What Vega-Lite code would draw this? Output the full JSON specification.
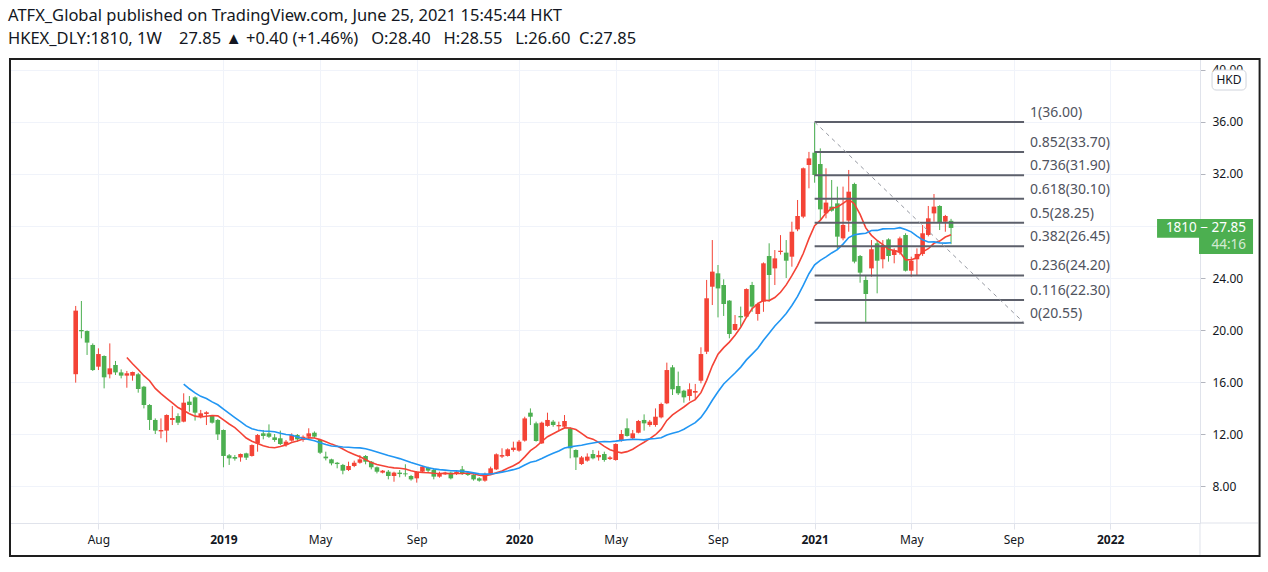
{
  "$schema": "https://vega.github.io/schema/vega-lite/v6.json",
  "width": 1190,
  "height": 465,
  "autosize": {"type": "none"},
  "padding": {"left": 10, "top": 58, "right": 68, "bottom": 49},
  "background": "#ffffff",
  "title": {
    "text": "ATFX_Global published on TradingView.com, June 25, 2021 15:45:44 HKT",
    "subtitle": "HKEX_DLY:1810, 1W\u00a0\u00a0\u00a0 27.85 ▲ +0.40 (+1.46%)\u00a0\u00a0 O:28.40\u00a0\u00a0 H:28.55\u00a0\u00a0 L:26.60\u00a0 C:27.85",
    "anchor": "start",
    "frame": "group",
    "dx": -2,
    "offset": 10,
    "font": "Noto Sans",
    "fontSize": 16.5,
    "fontWeight": "normal",
    "color": "#131722",
    "subtitleFont": "Noto Sans",
    "subtitleFontSize": 16.5,
    "subtitleColor": "#131722",
    "subtitlePadding": 7
  },
  "config": {"view": {"stroke": null}, "text": {"font": "Noto Sans"}},
  "datasets": {
    "candles": [
      {"d":"2018-07-09","o":16.6,"h":21.85,"l":15.95,"c":21.49},
      {"d":"2018-07-16","o":20.0,"h":22.23,"l":19.36,"c":19.9},
      {"d":"2018-07-23","o":19.92,"h":19.97,"l":18.08,"c":19.03},
      {"d":"2018-07-30","o":18.85,"h":18.97,"l":16.85,"c":16.92},
      {"d":"2018-08-06","o":17.18,"h":18.59,"l":16.92,"c":18.15},
      {"d":"2018-08-13","o":18.0,"h":18.05,"l":15.51,"c":16.36},
      {"d":"2018-08-20","o":16.59,"h":18.97,"l":16.28,"c":17.05},
      {"d":"2018-08-27","o":17.31,"h":17.62,"l":16.54,"c":16.74},
      {"d":"2018-09-03","o":16.74,"h":16.97,"l":16.28,"c":16.49},
      {"d":"2018-09-10","o":16.49,"h":16.85,"l":15.56,"c":16.67},
      {"d":"2018-09-17","o":16.49,"h":16.8,"l":16.1,"c":16.77},
      {"d":"2018-09-24","o":16.6,"h":16.7,"l":15.18,"c":15.46},
      {"d":"2018-10-01","o":15.64,"h":15.7,"l":13.97,"c":14.23},
      {"d":"2018-10-08","o":14.23,"h":14.3,"l":12.31,"c":13.08},
      {"d":"2018-10-15","o":13.08,"h":13.2,"l":12.0,"c":12.26},
      {"d":"2018-10-22","o":12.2,"h":13.2,"l":11.67,"c":12.31},
      {"d":"2018-10-29","o":12.26,"h":13.51,"l":11.36,"c":13.46},
      {"d":"2018-11-05","o":13.08,"h":14.15,"l":12.69,"c":13.23},
      {"d":"2018-11-12","o":13.38,"h":13.59,"l":12.69,"c":12.87},
      {"d":"2018-11-19","o":12.95,"h":15.13,"l":12.9,"c":14.41},
      {"d":"2018-11-26","o":14.49,"h":14.92,"l":13.72,"c":14.23},
      {"d":"2018-12-03","o":14.82,"h":14.9,"l":13.03,"c":13.64},
      {"d":"2018-12-10","o":13.38,"h":13.85,"l":13.2,"c":13.59},
      {"d":"2018-12-17","o":13.54,"h":13.75,"l":12.69,"c":13.67},
      {"d":"2018-12-24","o":13.41,"h":13.46,"l":12.8,"c":12.87},
      {"d":"2018-12-31","o":13.08,"h":13.15,"l":11.54,"c":11.97},
      {"d":"2019-01-07","o":12.31,"h":12.35,"l":9.44,"c":10.31},
      {"d":"2019-01-14","o":10.36,"h":10.46,"l":9.62,"c":10.13},
      {"d":"2019-01-21","o":10.23,"h":10.38,"l":9.95,"c":10.1},
      {"d":"2019-01-28","o":10.2,"h":10.5,"l":9.87,"c":10.46},
      {"d":"2019-02-04","o":10.51,"h":10.56,"l":10.0,"c":10.18},
      {"d":"2019-02-11","o":10.31,"h":11.2,"l":10.26,"c":11.15},
      {"d":"2019-02-18","o":11.28,"h":12.0,"l":10.64,"c":11.92},
      {"d":"2019-02-25","o":12.05,"h":12.31,"l":11.59,"c":11.85},
      {"d":"2019-03-04","o":12.05,"h":12.74,"l":11.7,"c":11.79},
      {"d":"2019-03-11","o":11.74,"h":12.0,"l":11.4,"c":11.54},
      {"d":"2019-03-18","o":11.67,"h":12.26,"l":11.15,"c":11.23},
      {"d":"2019-03-25","o":11.15,"h":11.54,"l":11.02,"c":11.41},
      {"d":"2019-04-01","o":11.49,"h":12.05,"l":11.41,"c":11.92},
      {"d":"2019-04-08","o":11.92,"h":12.0,"l":11.41,"c":11.59},
      {"d":"2019-04-15","o":11.54,"h":11.9,"l":11.4,"c":11.79},
      {"d":"2019-04-22","o":11.79,"h":12.44,"l":11.54,"c":12.05},
      {"d":"2019-04-29","o":12.1,"h":12.2,"l":11.7,"c":11.8},
      {"d":"2019-05-06","o":11.54,"h":11.6,"l":10.46,"c":10.56},
      {"d":"2019-05-13","o":10.26,"h":10.64,"l":9.97,"c":10.13},
      {"d":"2019-05-20","o":10.05,"h":10.1,"l":9.59,"c":9.74},
      {"d":"2019-05-27","o":9.79,"h":9.85,"l":9.36,"c":9.69},
      {"d":"2019-06-03","o":9.62,"h":9.7,"l":8.9,"c":9.18},
      {"d":"2019-06-10","o":9.23,"h":9.87,"l":9.15,"c":9.54},
      {"d":"2019-06-17","o":9.54,"h":9.95,"l":9.45,"c":9.79},
      {"d":"2019-06-24","o":9.79,"h":10.38,"l":9.72,"c":10.05},
      {"d":"2019-07-01","o":10.31,"h":10.38,"l":9.67,"c":9.87},
      {"d":"2019-07-08","o":9.87,"h":9.92,"l":9.28,"c":9.44},
      {"d":"2019-07-15","o":9.44,"h":9.5,"l":8.97,"c":9.1},
      {"d":"2019-07-22","o":9.03,"h":9.23,"l":8.97,"c":9.18},
      {"d":"2019-07-29","o":9.1,"h":9.23,"l":8.51,"c":8.77},
      {"d":"2019-08-05","o":8.77,"h":9.1,"l":8.33,"c":9.03},
      {"d":"2019-08-12","o":9.03,"h":9.23,"l":8.67,"c":8.92},
      {"d":"2019-08-19","o":8.97,"h":9.67,"l":8.72,"c":8.9},
      {"d":"2019-08-26","o":8.77,"h":8.85,"l":8.41,"c":8.51},
      {"d":"2019-09-02","o":8.59,"h":9.15,"l":8.26,"c":9.1},
      {"d":"2019-09-09","o":9.1,"h":9.54,"l":9.03,"c":9.49},
      {"d":"2019-09-16","o":9.41,"h":9.49,"l":9.03,"c":9.18},
      {"d":"2019-09-23","o":9.23,"h":9.36,"l":8.51,"c":8.72},
      {"d":"2019-09-30","o":8.72,"h":9.1,"l":8.64,"c":8.97},
      {"d":"2019-10-07","o":8.9,"h":9.1,"l":8.85,"c":9.03},
      {"d":"2019-10-14","o":9.03,"h":9.1,"l":8.51,"c":8.59},
      {"d":"2019-10-21","o":8.92,"h":9.15,"l":8.85,"c":9.1},
      {"d":"2019-10-28","o":9.28,"h":9.54,"l":8.85,"c":8.92},
      {"d":"2019-11-04","o":8.97,"h":9.1,"l":8.77,"c":8.85},
      {"d":"2019-11-11","o":8.85,"h":8.9,"l":8.41,"c":8.51},
      {"d":"2019-11-18","o":8.59,"h":8.67,"l":8.33,"c":8.41},
      {"d":"2019-11-25","o":8.41,"h":9.03,"l":8.33,"c":8.92},
      {"d":"2019-12-02","o":8.92,"h":9.49,"l":8.85,"c":9.36},
      {"d":"2019-12-09","o":9.28,"h":10.51,"l":9.23,"c":10.44},
      {"d":"2019-12-16","o":10.26,"h":10.9,"l":10.15,"c":10.38},
      {"d":"2019-12-23","o":10.31,"h":10.9,"l":10.26,"c":10.82},
      {"d":"2019-12-30","o":10.77,"h":11.41,"l":10.64,"c":10.95},
      {"d":"2020-01-06","o":10.72,"h":11.54,"l":10.64,"c":11.41},
      {"d":"2020-01-13","o":11.49,"h":13.33,"l":11.41,"c":13.2},
      {"d":"2020-01-20","o":13.64,"h":13.97,"l":12.69,"c":13.33},
      {"d":"2020-01-27","o":12.82,"h":12.95,"l":11.41,"c":11.46},
      {"d":"2020-02-03","o":11.28,"h":12.95,"l":11.23,"c":12.87},
      {"d":"2020-02-10","o":12.62,"h":13.64,"l":12.56,"c":13.08},
      {"d":"2020-02-17","o":12.95,"h":13.08,"l":12.56,"c":12.69},
      {"d":"2020-02-24","o":12.59,"h":12.95,"l":12.31,"c":12.69},
      {"d":"2020-03-02","o":12.56,"h":13.46,"l":12.51,"c":13.0},
      {"d":"2020-03-09","o":12.44,"h":12.51,"l":10.13,"c":10.9},
      {"d":"2020-03-16","o":10.77,"h":10.82,"l":9.23,"c":10.2},
      {"d":"2020-03-23","o":9.69,"h":10.31,"l":9.62,"c":10.2},
      {"d":"2020-03-30","o":9.95,"h":10.51,"l":9.87,"c":10.26},
      {"d":"2020-04-06","o":10.46,"h":10.77,"l":10.05,"c":10.13},
      {"d":"2020-04-13","o":10.21,"h":10.72,"l":9.95,"c":10.38},
      {"d":"2020-04-20","o":10.46,"h":10.64,"l":9.87,"c":10.0},
      {"d":"2020-04-27","o":10.08,"h":10.3,"l":10.0,"c":10.2},
      {"d":"2020-05-04","o":10.0,"h":11.28,"l":9.95,"c":11.23},
      {"d":"2020-05-11","o":11.49,"h":12.31,"l":11.41,"c":12.0},
      {"d":"2020-05-18","o":12.44,"h":13.2,"l":11.8,"c":11.85},
      {"d":"2020-05-25","o":11.67,"h":12.31,"l":11.54,"c":12.05},
      {"d":"2020-06-01","o":12.1,"h":13.08,"l":12.05,"c":13.0},
      {"d":"2020-06-08","o":13.08,"h":13.51,"l":12.26,"c":12.82},
      {"d":"2020-06-15","o":12.69,"h":13.08,"l":12.56,"c":12.95},
      {"d":"2020-06-22","o":12.69,"h":13.97,"l":12.56,"c":13.33},
      {"d":"2020-06-29","o":13.28,"h":14.41,"l":13.2,"c":14.31},
      {"d":"2020-07-06","o":14.36,"h":17.49,"l":14.3,"c":16.92},
      {"d":"2020-07-13","o":17.13,"h":17.3,"l":15.0,"c":15.44},
      {"d":"2020-07-20","o":15.69,"h":16.8,"l":15.0,"c":15.13},
      {"d":"2020-07-27","o":15.33,"h":15.4,"l":14.41,"c":14.82},
      {"d":"2020-08-03","o":14.92,"h":15.9,"l":14.56,"c":15.44},
      {"d":"2020-08-10","o":15.18,"h":15.85,"l":14.62,"c":15.31},
      {"d":"2020-08-17","o":16.1,"h":18.67,"l":15.9,"c":18.15},
      {"d":"2020-08-24","o":18.33,"h":23.85,"l":18.15,"c":22.44},
      {"d":"2020-08-31","o":23.33,"h":26.92,"l":21.92,"c":24.49},
      {"d":"2020-09-07","o":24.36,"h":25.0,"l":20.97,"c":23.2},
      {"d":"2020-09-14","o":23.46,"h":23.9,"l":21.08,"c":22.0},
      {"d":"2020-09-21","o":22.26,"h":22.3,"l":19.36,"c":19.69},
      {"d":"2020-09-28","o":20.0,"h":21.15,"l":19.95,"c":20.46},
      {"d":"2020-10-05","o":21.08,"h":21.8,"l":20.26,"c":20.97},
      {"d":"2020-10-12","o":21.03,"h":23.2,"l":20.97,"c":23.15},
      {"d":"2020-10-19","o":23.46,"h":23.7,"l":21.4,"c":21.8},
      {"d":"2020-10-26","o":21.23,"h":22.1,"l":20.72,"c":22.0},
      {"d":"2020-11-02","o":22.18,"h":25.2,"l":21.4,"c":25.13},
      {"d":"2020-11-09","o":25.69,"h":26.67,"l":22.18,"c":24.23},
      {"d":"2020-11-16","o":24.74,"h":26.15,"l":23.46,"c":25.51},
      {"d":"2020-11-23","o":26.0,"h":27.3,"l":25.8,"c":26.1},
      {"d":"2020-11-30","o":25.95,"h":26.92,"l":24.0,"c":25.33},
      {"d":"2020-12-07","o":25.64,"h":28.33,"l":24.87,"c":27.56},
      {"d":"2020-12-14","o":27.74,"h":30.0,"l":27.6,"c":28.77},
      {"d":"2020-12-21","o":28.72,"h":32.5,"l":28.6,"c":32.44},
      {"d":"2020-12-28","o":32.69,"h":33.7,"l":30.9,"c":33.2},
      {"d":"2021-01-04","o":33.64,"h":35.95,"l":31.33,"c":31.92},
      {"d":"2021-01-11","o":32.77,"h":33.97,"l":28.46,"c":29.28},
      {"d":"2021-01-18","o":28.97,"h":32.44,"l":28.59,"c":29.8},
      {"d":"2021-01-25","o":29.49,"h":31.54,"l":29.1,"c":29.18},
      {"d":"2021-02-01","o":29.74,"h":31.03,"l":26.15,"c":27.18},
      {"d":"2021-02-08","o":27.05,"h":31.03,"l":26.9,"c":28.08},
      {"d":"2021-02-15","o":28.41,"h":32.31,"l":27.56,"c":30.64},
      {"d":"2021-02-22","o":31.23,"h":31.33,"l":25.13,"c":25.26},
      {"d":"2021-03-01","o":25.69,"h":25.77,"l":23.64,"c":24.41},
      {"d":"2021-03-08","o":23.85,"h":24.23,"l":20.56,"c":22.77},
      {"d":"2021-03-15","o":24.74,"h":26.92,"l":24.1,"c":26.21},
      {"d":"2021-03-22","o":26.67,"h":26.92,"l":22.82,"c":25.33},
      {"d":"2021-03-29","o":25.44,"h":26.92,"l":24.74,"c":26.54},
      {"d":"2021-04-05","o":26.97,"h":27.05,"l":25.26,"c":25.69},
      {"d":"2021-04-12","o":25.77,"h":26.28,"l":25.13,"c":26.15},
      {"d":"2021-04-19","o":25.95,"h":27.18,"l":25.8,"c":27.05},
      {"d":"2021-04-26","o":27.31,"h":27.44,"l":24.5,"c":24.56},
      {"d":"2021-05-03","o":24.56,"h":25.64,"l":24.1,"c":25.33},
      {"d":"2021-05-10","o":25.44,"h":26.28,"l":24.23,"c":25.85},
      {"d":"2021-05-17","o":25.85,"h":28.08,"l":25.7,"c":27.44},
      {"d":"2021-05-24","o":27.31,"h":29.54,"l":27.2,"c":28.59},
      {"d":"2021-05-31","o":28.97,"h":30.46,"l":28.33,"c":29.49},
      {"d":"2021-06-07","o":29.54,"h":29.6,"l":27.69,"c":28.26},
      {"d":"2021-06-14","o":28.33,"h":28.85,"l":27.56,"c":28.77},
      {"d":"2021-06-21","o":28.4,"h":28.55,"l":26.6,"c":27.85}
    ],
    "fib": [
      {"p":36.0,"t":"1(36.00)"},
      {"p":33.7,"t":"0.852(33.70)"},
      {"p":31.9,"t":"0.736(31.90)"},
      {"p":30.1,"t":"0.618(30.10)"},
      {"p":28.25,"t":"0.5(28.25)"},
      {"p":26.45,"t":"0.382(26.45)"},
      {"p":24.2,"t":"0.236(24.20)"},
      {"p":22.3,"t":"0.116(22.30)"},
      {"p":20.55,"t":"0(20.55)"}
    ]
  },
  "layer": [
    {
      "data": {"name": "candles"},
      "mark": {"type": "rule", "strokeWidth": 1},
      "encoding": {
        "x": {
          "field": "d", "type": "temporal",
          "scale": {"type": "utc", "padding": 0, "nice": false, "domain": [{"year": 2018, "month": 4, "date": 19, "hours": 2, "minutes": 10, "utc": true}, {"year": 2022, "month": 4, "date": 23, "hours": 14, "minutes": 24, "utc": true}]},
          "axis": {
            "title": null,
            "values": [
              {"year": 2018, "month": 8, "date": 6, "utc": true},
              {"year": 2019, "month": 1, "date": 7, "utc": true},
              {"year": 2019, "month": 5, "date": 6, "utc": true},
              {"year": 2019, "month": 9, "date": 2, "utc": true},
              {"year": 2020, "month": 1, "date": 6, "utc": true},
              {"year": 2020, "month": 5, "date": 4, "utc": true},
              {"year": 2020, "month": 9, "date": 7, "utc": true},
              {"year": 2021, "month": 1, "date": 4, "utc": true},
              {"year": 2021, "month": 5, "date": 3, "utc": true},
              {"year": 2021, "month": 9, "date": 6, "utc": true},
              {"year": 2022, "month": 1, "date": 3, "utc": true}
            ],
            "labelExpr": "utcmonth(datum.value) == 0 ? utcFormat(datum.value, '%Y') : utcFormat(datum.value, '%b')",
            "labelFontWeight": {"condition": {"test": "utcmonth(datum.value) == 0", "value": "bold"}, "value": "normal"},
            "labelFont": "Noto Sans",
            "labelFontSize": 12,
            "labelColor": "#131722",
            "labelFlush": false,
            "labelOverlap": false,
            "labelPadding": 5,
            "tickSize": 6,
            "tickColor": "#e0e3eb",
            "domainColor": "#e0e3eb",
            "grid": true,
            "gridColor": "#f0f3fa",
            "gridWidth": 1
          }
        },
        "y": {
          "field": "l", "type": "quantitative",
          "scale": {"domain": [5.154, 40.923], "nice": false, "zero": false, "padding": 0},
          "axis": {
            "title": null,
            "orient": "right",
            "values": [8, 12, 16, 20, 24, 28, 32, 36, 40],
            "labelExpr": "datum.value == 28 ? '' : format(datum.value, '.2f')",
            "labelFont": "Noto Sans",
            "labelFontSize": 12,
            "labelColor": "#131722",
            "labelPadding": 7,
            "tickSize": 5,
            "tickColor": "#b2b5be",
            "domainColor": "#e0e3eb",
            "grid": true,
            "gridColor": "#f0f3fa",
            "gridWidth": 1
          }
        },
        "y2": {"field": "h"},
        "color": {"condition": {"test": "datum.c >= datum.o", "value": "#f44336"}, "value": "#4caf50"}
      }
    },
    {
      "data": {"values": [{}]},
      "mark": {"type": "rect", "filled": false, "stroke": "#1e1e1e", "strokeWidth": 2, "clip": false},
      "encoding": {
        "x": {"datum": {"year": 2018, "month": 4, "date": 19, "hours": 2, "utc": true}, "type": "temporal"},
        "x2": {"datum": {"year": 2022, "month": 7, "date": 6, "utc": true}},
        "y": {"datum": 40.85, "type": "quantitative"},
        "y2": {"datum": 2.62}
      }
    },
    {
      "data": {"values": [{}]},
      "mark": {"type": "rule", "stroke": "#e0e3eb", "strokeWidth": 1, "clip": false},
      "encoding": {
        "x": {"datum": {"year": 2022, "month": 4, "date": 23, "hours": 14, "utc": true}, "type": "temporal"},
        "y": {"datum": 5.154, "type": "quantitative"},
        "y2": {"datum": 2.7}
      }
    },
    {
      "data": {"values": [{}]},
      "mark": {"type": "rule", "stroke": "#e0e3eb", "strokeWidth": 1, "clip": false},
      "encoding": {
        "x": {"datum": {"year": 2022, "month": 4, "date": 23, "hours": 14, "utc": true}, "type": "temporal"},
        "x2": {"datum": {"year": 2022, "month": 7, "date": 4, "utc": true}},
        "y": {"datum": 5.154, "type": "quantitative"}
      }
    },
    {
      "data": {"name": "candles"},
      "mark": {"type": "bar", "size": 4.6},
      "encoding": {
        "x": {"field": "d", "type": "temporal", "title": null},
        "y": {"field": "o", "type": "quantitative", "title": null},
        "y2": {"field": "c"},
        "color": {"condition": {"test": "datum.c >= datum.o", "value": "#f44336"}, "value": "#4caf50"}
      }
    },
    {
      "data": {"name": "candles"},
      "transform": [
        {"window": [{"op": "mean", "field": "c", "as": "ma"}, {"op": "count", "as": "n"}], "frame": [-9, 0], "sort": [{"field": "d"}]},
        {"filter": "datum.n >= 10"}
      ],
      "mark": {"type": "line", "stroke": "#f44336", "strokeWidth": 1.6},
      "encoding": {
        "x": {"field": "d", "type": "temporal", "title": null},
        "y": {"field": "ma", "type": "quantitative", "title": null}
      }
    },
    {
      "data": {"name": "candles"},
      "transform": [
        {"window": [{"op": "mean", "field": "c", "as": "ma"}, {"op": "count", "as": "n"}], "frame": [-19, 0], "sort": [{"field": "d"}]},
        {"filter": "datum.n >= 20"}
      ],
      "mark": {"type": "line", "stroke": "#2196f3", "strokeWidth": 1.6},
      "encoding": {
        "x": {"field": "d", "type": "temporal", "title": null},
        "y": {"field": "ma", "type": "quantitative", "title": null}
      }
    },
    {
      "data": {"name": "fib"},
      "mark": {"type": "rule", "stroke": "#5d606b", "strokeWidth": 2},
      "encoding": {
        "x": {"datum": {"year": 2021, "month": 1, "date": 4, "utc": true}, "type": "temporal"},
        "x2": {"datum": {"year": 2021, "month": 9, "date": 18, "hours": 22, "utc": true}},
        "y": {"field": "p", "type": "quantitative", "title": null}
      }
    },
    {
      "data": {"values": [{}]},
      "mark": {"type": "rule", "stroke": "#9598a1", "strokeWidth": 1, "strokeDash": [4, 4]},
      "encoding": {
        "x": {"datum": {"year": 2021, "month": 1, "date": 4, "utc": true}, "type": "temporal"},
        "x2": {"datum": {"year": 2021, "month": 9, "date": 18, "hours": 22, "utc": true}},
        "y": {"datum": 36.0, "type": "quantitative"},
        "y2": {"datum": 20.55}
      }
    },
    {
      "data": {"name": "fib"},
      "mark": {"type": "text", "align": "left", "baseline": "middle", "dx": 6, "dy": -9, "fontSize": 14, "color": "#50535e", "font": "Noto Sans"},
      "encoding": {
        "x": {"datum": {"year": 2021, "month": 9, "date": 18, "hours": 22, "utc": true}, "type": "temporal"},
        "y": {"field": "p", "type": "quantitative", "title": null},
        "text": {"field": "t"}
      }
    },
    {
      "data": {"values": [{"x1": "2022-03-01T17:00:00Z", "x2": "2022-06-27T22:00:00Z", "y1": 28.54, "y2": 27.1}, {"x1": "2022-04-22T10:00:00Z", "x2": "2022-06-27T22:00:00Z", "y1": 27.2, "y2": 25.85}]},
      "mark": {"type": "rect", "fill": "#4caf50", "clip": false},
      "encoding": {
        "x": {"field": "x1", "type": "temporal", "title": null},
        "x2": {"field": "x2"},
        "y": {"field": "y1", "type": "quantitative", "title": null},
        "y2": {"field": "y2"}
      }
    },
    {
      "data": {"values": [{"x": "2022-06-19T07:00:00Z", "y": 27.846, "t": "1810 − 27.85", "o": 1}, {"x": "2022-06-19T07:00:00Z", "y": 26.54, "t": "44:16", "o": 0.75}]},
      "mark": {"type": "text", "align": "right", "baseline": "middle", "fontSize": 13.5, "font": "Noto Sans", "color": "#ffffff", "clip": false},
      "encoding": {
        "x": {"field": "x", "type": "temporal", "title": null},
        "y": {"field": "y", "type": "quantitative", "title": null},
        "text": {"field": "t"},
        "opacity": {"field": "o", "type": "quantitative", "scale": null}
      }
    },
    {
      "data": {"values": [{}]},
      "mark": {"type": "rect", "fill": "#ffffff", "stroke": "#d1d4dc", "strokeWidth": 1, "cornerRadius": 4, "clip": false},
      "encoding": {
        "x": {"datum": {"year": 2022, "month": 5, "date": 8, "hours": 10, "utc": true}, "type": "temporal"},
        "x2": {"datum": {"year": 2022, "month": 6, "date": 19, "hours": 7, "utc": true}},
        "y": {"datum": 40.0, "type": "quantitative"},
        "y2": {"datum": 38.46}
      }
    },
    {
      "data": {"values": [{}]},
      "mark": {"type": "text", "align": "center", "baseline": "middle", "fontSize": 12, "font": "Noto Sans", "color": "#131722", "text": "HKD", "clip": false},
      "encoding": {
        "x": {"datum": {"year": 2022, "month": 5, "date": 29, "hours": 7, "utc": true}, "type": "temporal"},
        "y": {"datum": 39.23, "type": "quantitative"}
      }
    }
  ]
}
